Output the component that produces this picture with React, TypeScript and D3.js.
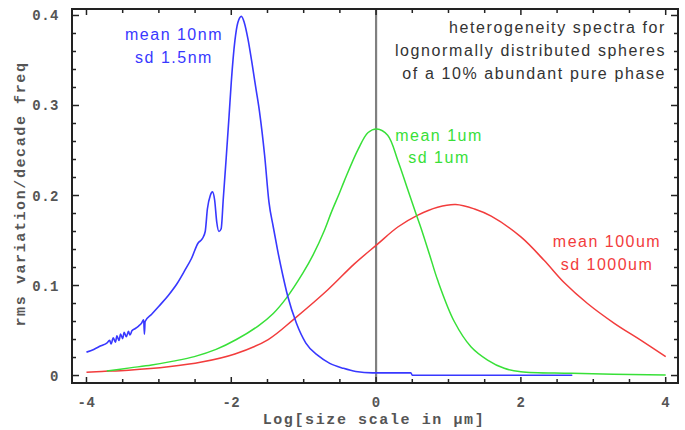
import React from "react";
import * as d3 from "d3";

const blueX = [-4.0, -3.9, -3.8, -3.72, -3.68, -3.66, -3.63, -3.6, -3.58, -3.55, -3.53, -3.5, -3.48, -3.45, -3.42, -3.4, -3.37, -3.33, -3.28, -3.24, -3.21, -3.2, -3.19, -3.1, -3.0, -2.87, -2.75, -2.64, -2.55, -2.46, -2.4, -2.36, -2.33, -2.29, -2.26, -2.23, -2.2, -2.17, -2.14, -2.11, -2.07, -2.03, -2.0, -1.95, -1.91, -1.86, -1.82, -1.77, -1.71, -1.66, -1.61, -1.54, -1.48, -1.42, -1.36, -1.29, -1.22, -1.1, -0.97, -0.8, -0.64, -0.45, -0.28, -0.05, 0.48, 0.5, 2.71];
const blueY = [0.026, 0.029, 0.033, 0.036, 0.039, 0.035, 0.042, 0.037, 0.044, 0.039, 0.046, 0.041, 0.048, 0.043, 0.049, 0.045, 0.050, 0.052, 0.055, 0.058, 0.062, 0.046, 0.060, 0.068, 0.077, 0.089, 0.102, 0.117, 0.130, 0.147, 0.152, 0.160, 0.185, 0.200, 0.204, 0.195, 0.170, 0.160, 0.163, 0.197, 0.242, 0.289, 0.326, 0.372, 0.392, 0.399, 0.392, 0.374, 0.345, 0.319, 0.293, 0.245, 0.193, 0.165, 0.139, 0.112, 0.088, 0.058, 0.036, 0.022, 0.0135, 0.008, 0.0045, 0.003, 0.003, 0.0003, 0.0003];

const greenX = [-3.72, -3.4, -3.1, -2.8, -2.51, -2.21, -1.93, -1.63, -1.42, -1.24, -1.01, -0.87, -0.71, -0.62, -0.51, -0.44, -0.25, -0.11, 0.01, 0.16, 0.30, 0.44, 0.55, 0.62, 0.74, 0.85, 1.08, 1.31, 1.54, 1.77, 2.0, 2.7, 4.0];
const greenY = [0.005, 0.0085, 0.0117, 0.016, 0.021, 0.029, 0.040, 0.055, 0.069, 0.086, 0.114, 0.134, 0.162, 0.181, 0.202, 0.216, 0.251, 0.270, 0.274, 0.267, 0.239, 0.206, 0.180, 0.164, 0.134, 0.106, 0.060, 0.032, 0.0172, 0.008, 0.0042, 0.0024, 0.0005];

const redX = [-4.0, -3.79, -3.42, -2.87, -2.41, -1.95, -1.49, -1.13, -0.67, -0.30, 0.02, 0.30, 0.57, 0.85, 1.1, 1.36, 1.59, 2.0, 2.32, 2.60, 2.92, 3.29, 3.66, 4.0];
const redY = [0.0036, 0.0045, 0.006, 0.0098, 0.015, 0.024, 0.040, 0.063, 0.095, 0.124, 0.146, 0.165, 0.178, 0.187, 0.190, 0.185, 0.177, 0.154, 0.128, 0.103, 0.080, 0.058, 0.039, 0.021];

const xTicks = [-4, -2, 0, 2, 4];
const xTickLabels = ["-4", "-2", "0", "2", "4"];
const yTicks = [0, 0.1, 0.2, 0.3, 0.4];
const yTickLabels = ["0", "0.1", "0.2", "0.3", "0.4"];

const xLabel = "Log[size scale in \u00b5m]";
const yLabel = "rms variation/decade freq";
const titleLines = ["heterogeneity spectra for", "lognormally distributed spheres", "of a 10% abundant pure phase"];
const blueLabel = ["mean 10nm", "sd 1.5nm"];
const greenLabel = ["mean 1um", "sd 1um"];
const redLabel = ["mean 100um", "sd 1000um"];

const W = 685, H = 430;
const left = 72, right = 678, top = 9, bottom = 383;

export default function App() {
  const x = d3.scaleLinear().domain([-4.2, 4.17]).range([left, right]);
  const y = d3.scaleLinear().domain([-0.0083, 0.4072]).range([bottom, top]);
  const lineM = d3.line<[number, number]>().x(d => x(d[0])).y(d => y(d[1])).curve(d3.curveMonotoneX);
  const lineC = d3.line<[number, number]>().x(d => x(d[0])).y(d => y(d[1])).curve(d3.curveCatmullRom.alpha(0.5));
  const mk = (xs: number[], ys: number[]) => xs.map((v, i) => [v, ys[i]] as [number, number]);

  const xMinor = d3.range(-4, 4.01, 0.5);
  const yMinor = d3.range(0, 0.4001, 0.02);
  const sans = "'Liberation Sans', Arial, sans-serif";
  const mono = "'Liberation Mono', 'Courier New', monospace";
  const axisCol = "#555";

  return (
    <svg width={W} height={H} style={{ position: "absolute", left: 0, top: 0, background: "#fff" }}>
      <rect x={0} y={0} width={W} height={H} fill="#fff" />
      <line x1={x(0)} x2={x(0)} y1={top} y2={bottom} stroke="#808080" strokeWidth={2.2} />
      <path d={lineC(mk(redX, redY)) || ""} fill="none" stroke="#f23c3c" strokeWidth={1.5} />
      <path d={lineC(mk(greenX, greenY)) || ""} fill="none" stroke="#38e038" strokeWidth={1.5} />
      <path d={lineM(mk(blueX, blueY)) || ""} fill="none" stroke="#3838ff" strokeWidth={1.6} />
      <rect x={left} y={top} width={right - left} height={bottom - top} fill="none" stroke="#222" strokeWidth={2} />
      {xMinor.map((t, i) => {
        const major = xTicks.includes(Math.round(t * 100) / 100);
        const len = major ? 6 : 4;
        return (
          <g key={"xt" + i}>
            <line x1={x(t)} x2={x(t)} y1={bottom} y2={bottom - len} stroke="#222" strokeWidth={1.5} />
            <line x1={x(t)} x2={x(t)} y1={top} y2={top + len} stroke="#222" strokeWidth={1.5} />
          </g>
        );
      })}
      {yMinor.map((t, i) => {
        const major = i % 5 === 0;
        const len = major ? 7 : 4;
        return (
          <g key={"yt" + i}>
            <line x1={left} x2={left + len} y1={y(t)} y2={y(t)} stroke="#222" strokeWidth={1.5} />
            <line x1={right} x2={right - len} y1={y(t)} y2={y(t)} stroke="#222" strokeWidth={1.5} />
          </g>
        );
      })}
      {xTicks.map((t, i) => (
        <text key={"xl" + i} x={x(t)} y={407} textAnchor="middle" fontFamily={mono} fontSize={14} fontWeight="bold" fill={axisCol} letterSpacing={0.5}>
          {xTickLabels[i]}
        </text>
      ))}
      {yTicks.map((t, i) => (
        <text key={"yl" + i} x={59} y={y(t) + 5} textAnchor="end" fontFamily={mono} fontSize={14} fontWeight="bold" fill={axisCol} letterSpacing={0.5}>
          {yTickLabels[i]}
        </text>
      ))}
      <text x={374} y={424} textAnchor="middle" fontFamily={mono} fontSize={15} fontWeight="bold" fill="#555" letterSpacing={1.6}>
        {xLabel}
      </text>
      <text transform={`translate(25,${194}) rotate(-90)`} textAnchor="middle" fontFamily={mono} fontSize={15} fontWeight="bold" fill="#555" letterSpacing={1.6}>
        {yLabel}
      </text>
      {titleLines.map((s, i) => (
        <text key={"t" + i} x={666} y={33 + i * 23} textAnchor="end" fontFamily={sans} fontSize={16} fill="#333" letterSpacing={1.6}>
          {s}
        </text>
      ))}
      {blueLabel.map((s, i) => (
        <text key={"b" + i} x={174} y={40 + i * 23} textAnchor="middle" fontFamily={sans} fontSize={16} fill="#3838ff" letterSpacing={1.5}>
          {s}
        </text>
      ))}
      {greenLabel.map((s, i) => (
        <text key={"g" + i} x={439} y={141 + i * 22} textAnchor="middle" fontFamily={sans} fontSize={16} fill="#38e038" letterSpacing={1.5}>
          {s}
        </text>
      ))}
      {redLabel.map((s, i) => (
        <text key={"r" + i} x={607} y={247 + i * 23} textAnchor="middle" fontFamily={sans} fontSize={16} fill="#f23c3c" letterSpacing={1.5}>
          {s}
        </text>
      ))}
    </svg>
  );
}
